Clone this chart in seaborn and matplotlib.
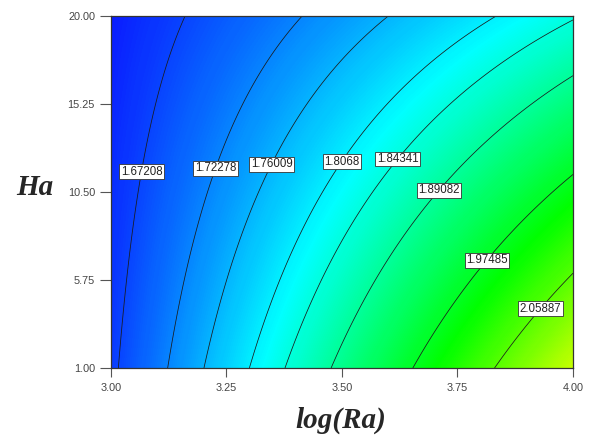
import numpy as np
import matplotlib
matplotlib.use("Agg")
import matplotlib.pyplot as plt
import seaborn as sns

# Response surface (2FI model, coded on log(Ra)-3 and Ha-1)
b0 = 1.6645      # value at log(Ra)=3, Ha=1
b_ra = 0.475     # slope along log(Ra)
b_ha = -0.00129  # slope along Ha
b_int = -0.01447 # interaction term

# contour levels shown on the chart
levels = [1.67208, 1.72278, 1.76009, 1.8068, 1.84341, 1.89082, 1.97485, 2.05887]
level_labels = ["1.67208", "1.72278", "1.76009", "1.8068", "1.84341", "1.89082", "1.97485", "2.05887"]
# where each label sits (log(Ra), Ha)
label_ra = [3.069, 3.219, 3.342, 3.491, 3.615, 3.706, 3.803, 3.933]
label_ha = [11.58, 11.85, 12.07, 12.28, 12.39, 10.66, 7.04, 4.13]

x_ticks = [3.00, 3.25, 3.50, 3.75, 4.00]
y_ticks = [1.00, 5.75, 10.50, 15.25, 20.00]

sns.set_style("ticks")
plt.rcParams['font.family'] = ['Liberation Sans', 'DejaVu Sans']

# 📦 grid
ra = np.linspace(x_ticks[0], x_ticks[-1], 301)
ha = np.linspace(y_ticks[0], y_ticks[-1], 301)
RA, HA = np.meshgrid(ra, ha)
u = RA - 3.0
v = HA - 1.0
Z = b0 + b_ra * u + b_ha * v + b_int * u * v

cmap = sns.blend_palette(["#0a1cff", "#00ffff", "#00ff00", "#ffff00"], as_cmap=True)

fig = plt.figure(figsize=(5.96, 4.48), dpi=100)
ax = fig.add_axes([0.1862, 0.1786, 0.7752, 0.7857])

ax.contourf(RA, HA, Z, levels=256, cmap=cmap, vmin=1.64, vmax=2.18)
cs = ax.contour(RA, HA, Z, levels=levels, colors="#1a1a1a", linewidths=0.55)

fmt = dict(zip(levels, level_labels))
texts = ax.clabel(cs, inline=False, fmt=fmt, fontsize=8.3, colors="#222222",
                  manual=list(zip(label_ra, label_ha)))
for t in texts:
    t.set_rotation(0)
    t.set_bbox(dict(facecolor="white", edgecolor="#333333", linewidth=0.6, pad=1.0))

ax.set_xlim(x_ticks[0], x_ticks[-1])
ax.set_ylim(y_ticks[0], y_ticks[-1])
ax.set_xticks(x_ticks)
ax.set_yticks(y_ticks)
ax.set_xticklabels([f"{t:.2f}" for t in x_ticks])
ax.set_yticklabels([f"{t:.2f}" for t in y_ticks])
ax.tick_params(axis="x", length=6.5, width=0.8, color="#555555", labelsize=7.8,
               labelcolor="#444444", pad=4.5)
ax.tick_params(axis="y", length=8, width=0.8, color="#555555", labelsize=7.8,
               labelcolor="#444444", pad=3.5)
for s in ax.spines.values():
    s.set_color("#333333")
    s.set_linewidth(0.9)

ax.set_xlabel("log(Ra)", family=["Liberation Serif", "DejaVu Serif"], fontweight="bold",
              fontstyle="italic", fontsize=21, va="center")
ax.set_ylabel("Ha", family=["Liberation Serif", "DejaVu Serif"], fontweight="bold",
              fontstyle="italic", fontsize=21, rotation=0, ha="center", va="center")
ax.xaxis.set_label_coords(0.498, -0.15)
ax.yaxis.set_label_coords(-0.1645, 0.512)

fig.savefig("out.png", dpi=100)
